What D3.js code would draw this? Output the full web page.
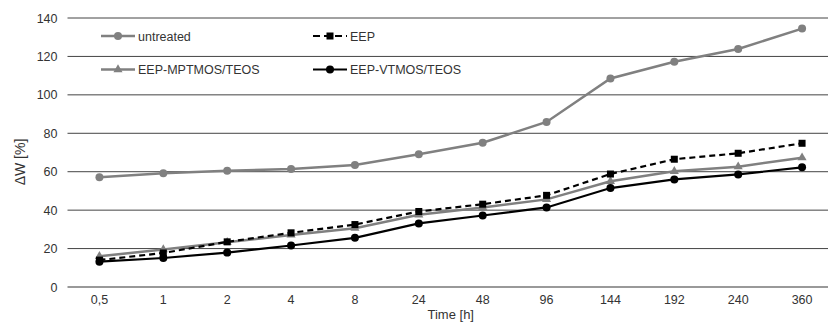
<!DOCTYPE html>
<html>
<head>
<meta charset="utf-8">
<script src="https://cdn.jsdelivr.net/npm/d3@7"></script>
<style>
  body { margin: 0; background: #fff; }
  svg text { font-family: "Liberation Sans", Arial, sans-serif; fill: #333; }
</style>
</head>
<body>
<div id="chart"></div>
<script>
const categories = ['0,5', '1', '2', '4', '8', '24', '48', '96', '144', '192', '240', '360'];
const untreated = [57.1, 59.2, 60.5, 61.4, 63.5, 69.1, 75.1, 85.9, 108.5, 117.2, 123.9, 134.5];
const eep = [14.0, 17.7, 23.5, 28.2, 32.5, 39.3, 43.1, 47.7, 58.8, 66.5, 69.6, 74.8];
const eepMptmos = [16.0, 19.5, 23.3, 27.1, 30.6, 37.6, 41.4, 45.6, 55.0, 60.2, 62.6, 67.3];
const eepVtmos = [13.2, 15.1, 17.9, 21.6, 25.6, 33.1, 37.2, 41.4, 51.5, 56.0, 58.6, 62.3];
const yTicks = [0, 20, 40, 60, 80, 100, 120, 140];

const series = [
  { name: 'untreated', values: untreated, color: '#808080', dash: null, marker: 'circle', w: 2.5 },
  { name: 'EEP-MPTMOS/TEOS', values: eepMptmos, color: '#808080', dash: null, marker: 'triangle', w: 2.5 },
  { name: 'EEP', values: eep, color: '#000', dash: '6,4', marker: 'square', w: 2.2 },
  { name: 'EEP-VTMOS/TEOS', values: eepVtmos, color: '#000', dash: null, marker: 'circle', w: 2.2 }
];

const width = 828, height = 322;
const margin = { top: 18, right: -6, bottom: 35, left: 67.5 };
const innerW = width - margin.left - margin.right;
const innerH = height - margin.top - margin.bottom;

const svg = d3.select('#chart').append('svg')
  .attr('width', width).attr('height', height);
const g = svg.append('g')
  .attr('transform', 'translate(' + margin.left + ',' + margin.top + ')');

const x = d3.scaleBand().domain(categories).range([0, innerW]);
const y = d3.scaleLinear().domain([0, 140]).range([innerH, 0]);
const cx = c => x(c) + x.bandwidth() / 2;

// grid lines
g.selectAll('.grid')
  .data(yTicks)
  .enter().append('line')
  .attr('x1', 0).attr('x2', innerW)
  .attr('y1', d => y(d)).attr('y2', d => y(d))
  .attr('stroke', d => d === 0 ? '#777' : '#444')
  .attr('stroke-width', d => d === 0 ? 1.5 : 1);

// y axis
const yAxis = g.append('g')
  .call(d3.axisLeft(y).tickValues(yTicks).tickSize(0).tickPadding(10));
yAxis.select('.domain').remove();
yAxis.selectAll('text').style('font-size', '12.5px')
  .style('font-family', '"Liberation Sans", Arial, sans-serif');

// x axis
const xAxis = g.append('g')
  .attr('transform', 'translate(0,' + innerH + ')')
  .call(d3.axisBottom(x).tickSize(0).tickPadding(8));
xAxis.select('.domain').remove();
xAxis.selectAll('text').style('font-size', '12.5px')
  .style('font-family', '"Liberation Sans", Arial, sans-serif');

// axis titles
svg.append('text')
  .attr('x', margin.left + innerW / 2).attr('y', 319)
  .attr('text-anchor', 'middle')
  .style('font-size', '13px')
  .text('Time [h]');

svg.append('text')
  .attr('transform', 'translate(25,162) rotate(-90)')
  .attr('text-anchor', 'middle')
  .style('font-size', '14px')
  .text('ΔW [%]');

const line = d3.line()
  .x((d, i) => cx(categories[i]))
  .y(d => y(d));

function drawMarker(sel, type, color) {
  if (type === 'circle') {
    sel.append('circle').attr('r', 4).attr('fill', color);
  } else if (type === 'square') {
    sel.append('rect').attr('x', -3.5).attr('y', -3.5)
      .attr('width', 7).attr('height', 7).attr('fill', color);
  } else {
    sel.append('path').attr('d', d3.symbol(d3.symbolTriangle, 36)()).attr('fill', color);
  }
}

series.forEach(s => {
  g.append('path')
    .datum(s.values)
    .attr('fill', 'none')
    .attr('stroke', s.color)
    .attr('stroke-width', s.w)
    .attr('stroke-dasharray', s.dash)
    .attr('d', line);

  g.selectAll(null)
    .data(s.values)
    .enter().append('g')
    .attr('transform', (d, i) => 'translate(' + cx(categories[i]) + ',' + y(d) + ')')
    .each(function () { drawMarker(d3.select(this), s.marker, s.color); });
});

// legend
const legendItems = [
  { s: series[0], x: 101, y: 36 },
  { s: series[2], x: 313, y: 36 },
  { s: series[1], x: 101, y: 69.5 },
  { s: series[3], x: 313, y: 69.5 }
];
legendItems.forEach(it => {
  const lg = svg.append('g').attr('transform', 'translate(' + it.x + ',' + it.y + ')');
  lg.append('line')
    .attr('x1', 0).attr('x2', 34).attr('y1', 0).attr('y2', 0)
    .attr('stroke', it.s.color).attr('stroke-width', it.s.w)
    .attr('stroke-dasharray', it.s.dash ? '7,4' : null);
  const m = lg.append('g').attr('transform', 'translate(17,0)');
  drawMarker(m, it.s.marker, it.s.color);
  lg.append('text')
    .attr('x', 37).attr('y', 4.5)
    .style('font-size', '12.5px')
    .text(it.s.name);
});
</script>
</body>
</html>
